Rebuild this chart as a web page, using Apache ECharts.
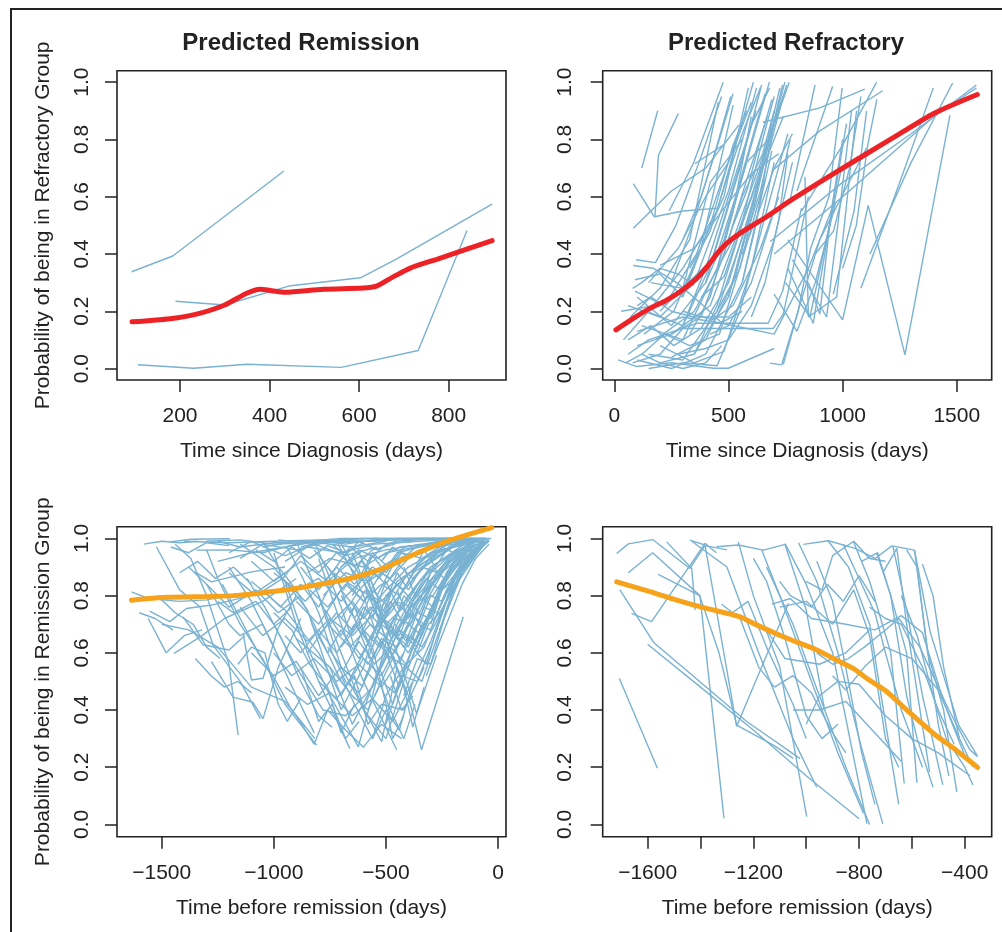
<!DOCTYPE html>
<html><head><meta charset="utf-8">
<script src="https://cdn.jsdelivr.net/npm/echarts@6/dist/echarts.min.js"></script>
<style>html,body{margin:0;padding:0;background:#fff}#c{width:1002px;height:932px}</style>
</head><body><div id="c"></div>
<script>
const panelTitles = ['Predicted Remission', 'Predicted Refractory'];
const yTitles = ['Probability of being in Refractory Group', 'Probability of being in Remission Group'];
const xTitles = ['Time since Diagnosis (days)', 'Time since Diagnosis (days)', 'Time before remission (days)', 'Time before remission (days)'];
const yTicks = [0, 0.2, 0.4, 0.6, 0.8, 1.0];
const xTicks1 = [200, 400, 600, 800];
const xTicks2 = [0, 500, 1000, 1500];
const xTicks3 = [-1500, -1000, -500, 0];
const xTicks4 = [-1600, -1400, -1200, -1000, -800, -600, -400];
const xLabels4 = [-1600, -1200, -800, -400];

// Panel 1: predicted remission, refractory-group probability vs time since diagnosis
const remLines = [
  [[92,0.338],[184,0.393],[432,0.69]],
  [[190,0.235],[300,0.222],[443,0.288],[603,0.317],[682,0.381],[897,0.574]],
  [[106,0.013],[231,0.001],[350,0.015],[560,0.004],[732,0.063],[841,0.482]]
];
const remSmooth = [[93,0.163],[178,0.174],[237,0.19],[300,0.222],[349,0.263],[379,0.277],[405,0.272],[434,0.266],[520,0.277],[609,0.281],[639,0.288],[676,0.32],[713,0.35],[780,0.385],[897,0.447]];

// Panel 2: predicted refractory
const refLines = [
  [[120,0.70],[190,0.90]],
  [[178,0.53],[193,0.745],[280,0.89]],
  [[83,0.646],[175,0.53],[300,0.55],[455,0.56]],
  [[240,0.55],[346,0.716],[477,1.0]],
  [[353,0.715],[477,0.78]],
  [[83,0.49],[250,0.62],[400,0.70],[545,0.85]],
  [[95,0.38],[180,0.37],[270,0.50],[380,0.74],[470,0.95]],
  [[83,0.36],[171,0.35],[273,0.30],[390,0.22],[470,0.16],[560,0.20]],
  [[90,0.31],[200,0.33],[300,0.25],[400,0.46],[480,0.60],[587,0.98]],
  [[17,0.03],[98,0.007],[250,0.02],[434,0.001],[499,0.001],[700,0.07]],
  [[60,0.05],[150,0.10],[361,0.158],[674,0.158],[737,0.27],[820,0.56]],
  [[80,0.02],[200,0.05],[300,0.14],[696,0.14],[740,0.19],[850,0.60]],
  [[740,0.015],[805,0.20],[860,0.42],[940,0.60],[998,0.98]],
  [[760,0.45],[1000,0.17],[1112,0.57],[1273,0.048],[1470,0.884]],
  [[682,0.443],[1000,0.65],[1300,0.82],[1586,0.99]],
  [[700,0.40],[1000,0.60],[1400,0.88],[1586,0.98]],
  [[682,0.019],[733,0.013],[900,0.45],[1105,0.771]],
  [[959,0.26],[1050,0.55],[1105,0.90]],
  [[1120,0.40],[1300,0.72],[1482,0.997]],
  [[1080,0.28],[1250,0.65],[1397,0.98]],
  [[820,0.55],[1000,0.78],[1149,1.0]],
  [[690,0.69],[900,0.83],[1175,0.97]],
  [[650,0.86],[900,0.91],[1097,0.976]],
  [[770,0.59],[879,0.99]],
  [[800,0.62],[956,0.985]],
  [[835,0.67],[850,0.18],[974,0.25],[1061,0.90]],
  [[760,0.35],[871,0.158],[1017,0.855]],
  [[780,0.38],[930,0.18],[1039,0.90]],
  [[750,0.30],[857,0.18],[995,0.70]],
  [[40,0.10],[150,0.20],[300,0.35],[450,0.55],[609,1.0]],
  [[60,0.22],[200,0.18],[350,0.30],[500,0.62],[623,0.98]],
  [[100,0.25],[250,0.15],[400,0.30],[550,0.70],[645,0.99]],
  [[120,0.15],[300,0.10],[450,0.35],[600,0.78],[679,1.0]],
  [[150,0.05],[300,0.03],[450,0.20],[600,0.55],[725,0.98]],
  [[200,0.02],[350,0.05],[500,0.25],[650,0.70],[737,0.99]],
  [[250,0.04],[400,0.10],[550,0.35],[680,0.80],[747,1.0]],
  [[100,0.08],[250,0.12],[420,0.22],[600,0.60],[755,0.99]],
  [[180,0.10],[350,0.20],[520,0.45],[766,1.0]],
  [[70,0.18],[200,0.28],[330,0.45],[455,0.93]],
  [[130,0.12],[260,0.20],[380,0.42],[520,0.92]],
  [[90,0.27],[220,0.22],[360,0.40],[560,0.86]],
  [[50,0.15],[140,0.20],[300,0.15],[420,0.36],[620,0.90]],
  [[160,0.30],[300,0.28],[450,0.40],[580,0.72],[700,0.82]],
  [[200,0.36],[350,0.42],[480,0.56],[600,0.68],[720,0.75]],
  [[30,0.20],[180,0.22],[300,0.28],[420,0.65],[560,0.80]],
  [[150,0.00],[300,0.02],[450,0.01],[550,0.20],[650,0.50],[760,0.82]],
  [[200,0.08],[350,0.02],[480,0.06],[600,0.35],[700,0.72]],
  [[100,0.03],[250,0.00],[400,0.05],[560,0.30],[690,0.76]],
  [[300,0.20],[430,0.17],[520,0.22],[640,0.42],[720,0.60]],
  [[420,0.12],[500,0.15],[600,0.30],[700,0.55],[770,0.80]],
  [[380,0.25],[480,0.32],[580,0.55],[650,0.70],[740,0.88]],
  [[280,0.05],[400,0.07],[500,0.10],[600,0.22],[700,0.45],[780,0.72]],
  [[100,0.13],[300,0.18],[460,0.16],[700,0.12],[850,0.35],[950,0.55]],
  [[250,0.30],[350,0.52],[450,0.78],[510,0.95]],
  [[300,0.45],[380,0.60],[460,0.80],[520,0.96]],
  [[330,0.12],[420,0.25],[520,0.55],[600,0.88]],
  [[560,0.30],[620,0.50],[680,0.78],[720,0.93]],
  [[500,0.25],[570,0.45],[640,0.62],[690,0.80],[730,0.92]],
  [[480,0.40],[560,0.60],[650,0.75],[700,0.90]],
  [[600,0.18],[660,0.30],[720,0.52],[760,0.75]],
  [[850,0.30],[900,0.19],[950,0.55],[1000,0.80]],
  [[700,0.26],[800,0.13],[880,0.30],[970,0.58]],
  [[1000,0.35],[1060,0.50],[1110,0.78],[1150,0.94]],
  [[880,0.40],[960,0.48],[1030,0.70],[1080,0.95]],
  [[50,0.02],[120,0.05],[200,0.02],[300,0.00],[400,0.02],[470,0.08]],
  [[80,0.28],[120,0.30],[200,0.35],[280,0.33],[350,0.29]],
  [[100,0.22],[160,0.25],[250,0.20],[350,0.18],[500,0.18],[600,0.25]],
  [[300,0.15],[400,0.35],[500,0.60],[600,0.85],[680,0.98]],
  [[350,0.05],[450,0.22],[550,0.48],[650,0.80],[700,0.95]],
  [[200,0.20],[320,0.30],[420,0.50],[520,0.78],[580,0.90]],
  [[250,0.12],[380,0.18],[480,0.40],[580,0.66],[670,0.88]],
  [[400,0.30],[480,0.45],[560,0.68],[620,0.85],[660,0.96]],
  [[450,0.20],[530,0.32],[610,0.58],[680,0.82],[750,0.97]],
  [[520,0.50],[580,0.62],[640,0.80],[690,0.94]],
  [[150,0.30],[280,0.42],[400,0.60],[500,0.72],[600,0.93]],
  [[330,0.35],[420,0.48],[500,0.68],[560,0.82],[640,0.98]],
  [[560,0.40],[620,0.52],[700,0.70],[780,0.82]],
  [[120,0.05],[220,0.12],[330,0.08],[460,0.12],[560,0.38],[660,0.66]],
  [[60,0.10],[160,0.15],[260,0.08],[380,0.14],[500,0.30],[620,0.62]]
];
const refSmooth = [[7,0.135],[83,0.175],[156,0.21],[229,0.239],[288,0.268],[361,0.315],[406,0.355],[451,0.402],[492,0.437],[550,0.472],[667,0.53],[784,0.593],[959,0.68],[1105,0.75],[1251,0.82],[1397,0.89],[1590,0.957]];

// Panel 3: remission-group probability vs time before remission
const remBackLines = [
  [[-1464,0.988],[-1368,0.997],[-1196,0.999]],
  [[-1524,0.971],[-1420,0.82],[-1330,0.761],[-1271,0.627],[-1150,0.50],[-1060,0.37]],
  [[-1635,0.813],[-1560,0.79],[-1420,0.78],[-1300,0.785],[-1200,0.80]],
  [[-1554,0.746],[-1464,0.709],[-1390,0.755],[-1278,0.767],[-1100,0.80],[-950,0.88]],
  [[-1445,0.598],[-1320,0.66],[-1220,0.72],[-1050,0.78],[-900,0.86]],
  [[-1440,0.98],[-1370,0.93],[-1300,0.80],[-1200,0.56],[-1159,0.312]],
  [[-1405,0.726],[-1316,0.628],[-1200,0.61],[-1130,0.66]],
  [[-1137,0.668],[-1100,0.505],[-1048,0.511],[-981,0.686],[-900,0.80]],
  [[-1278,0.569],[-1182,0.445],[-1093,0.427],[-1048,0.37],[-980,0.55],[-880,0.72]],
  [[-1353,0.883],[-1278,0.848],[-1100,0.883],[-950,0.90]],
  [[-1345,0.959],[-1200,0.96],[-1050,0.95],[-900,0.98]],
  [[-1500,0.70],[-1380,0.68],[-1250,0.62],[-1100,0.48],[-950,0.43],[-817,0.30]],
  [[-1300,0.96],[-1250,0.86],[-1150,0.70],[-1050,0.58],[-950,0.42],[-809,0.277]],
  [[-1200,0.90],[-1100,0.78],[-1000,0.62],[-900,0.45],[-820,0.32]],
  [[-1000,0.95],[-900,0.70],[-800,0.50],[-661,0.265]],
  [[-950,0.85],[-850,0.62],[-750,0.45],[-623,0.271],[-560,0.45],[-480,0.70]],
  [[-900,0.99],[-800,0.80],[-700,0.55],[-519,0.289],[-450,0.55]],
  [[-800,0.93],[-700,0.70],[-600,0.50],[-452,0.261]],
  [[-650,0.95],[-500,0.65],[-400,0.45],[-341,0.261],[-155,0.726]],
  [[-600,0.88],[-450,0.60],[-363,0.388],[-274,0.592]],
  [[-1150,0.98],[-1000,0.90],[-850,0.75],[-700,0.40],[-600,0.55],[-500,0.80],[-300,0.95],[-100,0.99]],
  [[-1100,0.85],[-950,0.75],[-800,0.60],[-700,0.45],[-600,0.60],[-450,0.85],[-250,0.96],[-80,0.99]],
  [[-900,0.65],[-750,0.55],[-650,0.35],[-550,0.50],[-400,0.75],[-200,0.93],[-60,0.98]],
  [[-800,0.80],[-700,0.60],[-600,0.40],[-500,0.30],[-400,0.55],[-250,0.85],[-120,0.97]],
  [[-700,0.98],[-600,0.85],[-500,0.70],[-400,0.60],[-300,0.75],[-180,0.94],[-60,0.995]],
  [[-1000,0.70],[-900,0.55],[-780,0.40],[-680,0.38],[-560,0.48],[-450,0.70],[-300,0.90],[-150,0.98]],
  [[-1250,0.92],[-1100,0.95],[-950,0.97],[-800,0.99],[-600,1.0],[-300,1.0],[-50,1.0]],
  [[-1050,0.97],[-900,0.99],[-700,0.985],[-500,0.995],[-200,1.0],[-30,1.0]],
  [[-1400,0.99],[-1200,0.985],[-1000,0.99],[-800,0.995],[-600,0.99]],
  [[-950,0.92],[-850,0.97],[-700,0.95],[-550,0.98],[-350,0.99],[-150,1.0]],
  [[-850,0.88],[-750,0.93],[-600,0.90],[-500,0.95],[-300,0.98],[-100,0.99]],
  [[-780,0.80],[-680,0.88],[-580,0.85],[-480,0.90],[-350,0.96],[-120,0.99]],
  [[-700,0.72],[-620,0.82],[-520,0.78],[-430,0.85],[-330,0.93],[-150,0.985]],
  [[-650,0.60],[-560,0.75],[-480,0.70],[-400,0.80],[-300,0.90],[-130,0.98]],
  [[-600,0.50],[-520,0.65],[-450,0.62],[-380,0.72],[-280,0.86],[-120,0.97]],
  [[-550,0.45],[-470,0.58],[-400,0.55],[-330,0.68],[-250,0.82],[-100,0.96]],
  [[-500,0.35],[-430,0.52],[-360,0.50],[-300,0.62],[-220,0.80],[-90,0.95]],
  [[-750,0.70],[-650,0.78],[-550,0.68],[-470,0.75],[-380,0.88],[-200,0.97]],
  [[-680,0.85],[-600,0.78],[-520,0.88],[-420,0.82],[-330,0.90],[-170,0.99]],
  [[-620,0.95],[-540,0.80],[-460,0.92],[-380,0.86],[-280,0.95],[-140,0.99]],
  [[-560,0.72],[-500,0.85],[-440,0.75],[-360,0.84],[-260,0.92],[-110,0.98]],
  [[-900,0.78],[-800,0.70],[-700,0.82],[-600,0.72],[-500,0.82],[-400,0.90],[-220,0.98]],
  [[-850,0.60],[-760,0.70],[-660,0.62],[-570,0.70],[-480,0.64],[-380,0.78],[-200,0.95]],
  [[-1000,0.88],[-900,0.82],[-800,0.86],[-700,0.78],[-600,0.86],[-480,0.92],[-300,0.97]],
  [[-1100,0.92],[-1000,0.85],[-880,0.92],[-760,0.85],[-640,0.93],[-500,0.96],[-250,0.99]],
  [[-1200,0.88],[-1080,0.80],[-960,0.86],[-860,0.78],[-740,0.88],[-620,0.82],[-520,0.90]],
  [[-1300,0.84],[-1200,0.76],[-1080,0.82],[-980,0.74],[-880,0.80]],
  [[-1150,0.76],[-1050,0.66],[-950,0.72],[-850,0.64],[-750,0.72],[-650,0.66],[-550,0.74]],
  [[-1000,0.60],[-920,0.52],[-820,0.58],[-720,0.50],[-620,0.56],[-520,0.48],[-420,0.60]],
  [[-950,0.48],[-850,0.42],[-750,0.46],[-650,0.38],[-560,0.44],[-470,0.36],[-380,0.50]],
  [[-900,0.38],[-820,0.28],[-760,0.40],[-680,0.33],[-600,0.27],[-520,0.35],[-430,0.30]],
  [[-1380,0.90],[-1300,0.84],[-1200,0.70],[-1150,0.66],[-1050,0.70],[-1000,0.62]],
  [[-1560,0.72],[-1480,0.60],[-1400,0.66],[-1320,0.68]],
  [[-1250,0.99],[-1150,0.97],[-1000,0.985],[-850,0.99],[-700,1.0],[-500,1.0],[-250,1.0],[-60,1.0]],
  [[-1150,0.93],[-1050,0.98],[-900,0.96],[-750,0.99],[-550,0.99],[-350,1.0],[-150,1.0]],
  [[-700,0.90],[-620,0.96],[-540,0.93],[-440,0.97],[-320,0.98],[-160,0.995]],
  [[-460,0.60],[-400,0.70],[-340,0.66],[-280,0.78],[-200,0.90],[-80,0.975]],
  [[-420,0.45],[-360,0.58],[-300,0.56],[-240,0.72],[-170,0.88],[-70,0.97]],
  [[-380,0.65],[-330,0.76],[-270,0.74],[-210,0.84],[-140,0.93],[-50,0.985]],
  [[-520,0.55],[-440,0.68],[-370,0.64],[-300,0.74],[-220,0.87],[-100,0.97]],
  [[-600,0.68],[-530,0.62],[-460,0.72],[-390,0.70],[-310,0.82],[-200,0.93],[-90,0.98]],
  [[-750,0.55],[-680,0.48],[-600,0.58],[-520,0.52],[-440,0.64],[-340,0.80],[-180,0.95]],
  [[-650,0.45],[-580,0.40],[-520,0.50],[-460,0.46],[-400,0.58],[-320,0.72],[-210,0.90]],
  [[-800,0.50],[-720,0.44],[-640,0.52],[-580,0.35],[-520,0.42],[-420,0.40],[-330,0.55]],
  [[-1100,0.60],[-1000,0.52],[-900,0.57],[-800,0.45],[-700,0.55],[-600,0.48]],
  [[-950,0.66],[-880,0.60],[-800,0.68],[-720,0.60],[-640,0.70],[-560,0.62],[-480,0.80]],
  [[-1050,0.82],[-970,0.76],[-880,0.84],[-800,0.76],[-700,0.90],[-600,0.96]],
  [[-1250,0.78],[-1180,0.74],[-1080,0.78],[-1000,0.70],[-920,0.76]],
  [[-1460,0.97],[-1380,0.95],[-1300,0.985],[-1200,0.975]],
  [[-1600,0.74],[-1530,0.72],[-1450,0.68]],
  [[-1350,0.58],[-1280,0.52],[-1220,0.48],[-1160,0.50],[-1100,0.46]],
  [[-880,0.55],[-800,0.36],[-740,0.42],[-680,0.30],[-620,0.36]],
  [[-560,0.62],[-500,0.42],[-470,0.30],[-420,0.38]],
  [[-480,0.52],[-430,0.40],[-380,0.45]],
  [[-300,0.70],[-250,0.82],[-190,0.86],[-130,0.94],[-60,0.99]],
  [[-250,0.78],[-200,0.85],[-150,0.90],[-100,0.95],[-40,0.99]],
  [[-650,0.80],[-580,0.90],[-500,0.84],[-420,0.93],[-320,0.96],[-180,0.99],[-60,1.0]],
  [[-620,0.70],[-560,0.82],[-490,0.76],[-410,0.87],[-320,0.92],[-200,0.97],[-80,0.995]],
  [[-580,0.88],[-520,0.76],[-450,0.84],[-380,0.78],[-300,0.88],[-200,0.95],[-90,0.99]],
  [[-540,0.78],[-480,0.66],[-420,0.80],[-350,0.74],[-280,0.86],[-190,0.94],[-70,0.99]],
  [[-700,0.62],[-620,0.70],[-550,0.58],[-480,0.68],[-400,0.62],[-320,0.78],[-220,0.92],[-100,0.98]],
  [[-760,0.90],[-690,0.82],[-610,0.92],[-530,0.86],[-450,0.95],[-350,0.97],[-200,0.99]],
  [[-820,0.96],[-740,0.88],[-660,0.97],[-580,0.92],[-500,0.98],[-380,0.99]],
  [[-450,0.82],[-400,0.72],[-350,0.80],[-290,0.76],[-230,0.88],[-150,0.96],[-60,0.99]],
  [[-420,0.90],[-370,0.80],[-320,0.86],[-260,0.82],[-200,0.91],[-120,0.97],[-40,0.995]],
  [[-500,0.60],[-440,0.48],[-380,0.62],[-320,0.56],[-260,0.72],[-180,0.88],[-80,0.975]],
  [[-600,0.40],[-530,0.55],[-470,0.42],[-410,0.55],[-340,0.50],[-260,0.68],[-160,0.88],[-70,0.97]],
  [[-700,0.52],[-640,0.42],[-560,0.30],[-500,0.45],[-420,0.55],[-330,0.62],[-230,0.82],[-110,0.96]],
  [[-560,0.30],[-500,0.40],[-440,0.33],[-380,0.50],[-300,0.64],[-200,0.85],[-90,0.97]],
  [[-480,0.70],[-420,0.62],[-360,0.70],[-300,0.68],[-240,0.80],[-160,0.92],[-60,0.99]],
  [[-880,0.97],[-780,0.99],[-680,0.98],[-560,0.995],[-440,1.0],[-300,1.0],[-100,1.0]],
  [[-980,0.995],[-850,0.985],[-700,0.995],[-550,1.0],[-400,0.995],[-200,1.0]],
  [[-1300,0.99],[-1150,0.995],[-1000,0.98],[-800,0.985],[-650,0.97],[-500,0.99]],
  [[-1200,0.95],[-1100,0.99],[-950,0.94],[-820,0.98],[-680,0.94],[-540,0.97]],
  [[-770,0.75],[-700,0.66],[-640,0.76],[-580,0.64],[-520,0.72],[-440,0.66],[-360,0.82]],
  [[-830,0.70],[-760,0.60],[-700,0.68],[-620,0.58],[-560,0.66],[-480,0.58],[-400,0.70]],
  [[-730,0.88],[-660,0.74],[-590,0.82],[-520,0.70],[-460,0.78],[-380,0.72],[-300,0.84]],
  [[-1050,0.99],[-980,0.90],[-900,0.82],[-820,0.70],[-760,0.60],[-700,0.50],[-640,0.44]],
  [[-940,0.97],[-870,0.86],[-800,0.74],[-740,0.60],[-680,0.50],[-620,0.46],[-560,0.56]],
  [[-820,0.99],[-760,0.88],[-700,0.76],[-640,0.62],[-580,0.56],[-520,0.64],[-460,0.58]],
  [[-720,0.99],[-660,0.90],[-600,0.80],[-540,0.66],[-480,0.58],[-420,0.66],[-360,0.62]],
  [[-1000,0.74],[-920,0.68],[-840,0.56],[-760,0.48],[-700,0.32],[-640,0.42]],
  [[-1120,0.86],[-1040,0.76],[-960,0.64],[-880,0.50],[-800,0.38],[-740,0.34]],
  [[-1230,0.84],[-1150,0.72],[-1070,0.60],[-990,0.50],[-920,0.40],[-860,0.34]],
  [[-660,0.76],[-600,0.64],[-540,0.52],[-480,0.40],[-420,0.30],[-370,0.42]],
  [[-600,0.92],[-540,0.74],[-480,0.60],[-420,0.48],[-380,0.34],[-330,0.48]],
  [[-380,0.88],[-330,0.96],[-280,0.90],[-220,0.97],[-150,0.99],[-60,1.0]],
  [[-340,0.80],[-290,0.90],[-240,0.86],[-180,0.95],[-110,0.985],[-40,1.0]],
  [[-300,0.92],[-250,0.97],[-200,0.95],[-140,0.99],[-70,1.0]],
  [[-260,0.68],[-210,0.80],[-160,0.88],[-110,0.95],[-50,0.99]],
  [[-1420,0.88],[-1340,0.92],[-1260,0.86],[-1180,0.90],[-1100,0.84]],
  [[-1580,0.98],[-1500,0.99],[-1420,0.985],[-1340,0.99]],
  [[-1520,0.80],[-1440,0.74],[-1360,0.70],[-1300,0.62],[-1240,0.58]],
  [[-1160,0.56],[-1100,0.62],[-1040,0.60],[-980,0.42],[-940,0.36],[-880,0.44]],
  [[-700,0.80],[-640,0.72],[-580,0.80],[-500,0.74],[-420,0.82],[-330,0.90],[-200,0.97],[-70,1.0]],
  [[-660,0.66],[-600,0.76],[-530,0.70],[-460,0.78],[-380,0.76],[-290,0.86],[-170,0.95],[-60,0.99]],
  [[-620,0.84],[-560,0.94],[-500,0.88],[-430,0.95],[-340,0.93],[-240,0.98],[-110,1.0]],
  [[-580,0.58],[-520,0.70],[-460,0.66],[-400,0.74],[-330,0.70],[-250,0.84],[-140,0.95],[-50,0.99]],
  [[-540,0.66],[-480,0.78],[-420,0.70],[-360,0.78],[-290,0.80],[-210,0.90],[-100,0.98]],
  [[-500,0.78],[-450,0.88],[-400,0.82],[-340,0.90],[-270,0.88],[-190,0.95],[-90,0.995]],
  [[-460,0.70],[-410,0.64],[-360,0.74],[-300,0.72],[-240,0.84],[-160,0.93],[-60,0.99]],
  [[-440,0.56],[-390,0.66],[-340,0.62],[-280,0.70],[-220,0.80],[-140,0.92],[-50,0.985]],
  [[-400,0.76],[-350,0.70],[-300,0.80],[-250,0.78],[-190,0.88],[-120,0.95],[-40,0.995]],
  [[-360,0.60],[-310,0.70],[-260,0.74],[-200,0.82],[-140,0.91],[-70,0.97]],
  [[-320,0.52],[-270,0.62],[-220,0.72],[-160,0.84],[-100,0.93],[-40,0.98]],
  [[-880,0.90],[-800,0.82],[-720,0.90],[-640,0.84],[-560,0.90],[-480,0.86],[-400,0.93]],
  [[-840,0.82],[-760,0.76],[-680,0.84],[-600,0.78],[-520,0.84],[-440,0.80],[-360,0.90]],
  [[-800,0.66],[-720,0.74],[-650,0.68],[-570,0.76],[-500,0.70],[-420,0.76],[-340,0.86]],
  [[-760,0.62],[-690,0.54],[-620,0.64],[-550,0.56],[-480,0.62],[-410,0.56],[-340,0.70]],
  [[-960,0.86],[-880,0.94],[-800,0.88],[-720,0.95],[-640,0.90],[-560,0.96],[-460,0.98]],
  [[-1080,0.96],[-1000,0.92],[-920,0.97],[-840,0.93],[-760,0.975],[-680,0.95],[-600,0.985]],
  [[-680,0.92],[-620,0.86],[-560,0.95],[-490,0.90],[-420,0.97],[-330,0.98],[-200,1.0]],
  [[-740,0.98],[-680,0.94],[-620,0.99],[-540,0.96],[-460,0.99],[-360,0.995],[-220,1.0]],
  [[-520,0.92],[-470,0.97],[-410,0.94],[-350,0.98],[-270,0.97],[-180,0.995],[-80,1.0]]
];
const remBackSmooth = [[-1635,0.784],[-1479,0.794],[-1182,0.80],[-958,0.819],[-810,0.837],[-661,0.86],[-512,0.895],[-363,0.948],[-214,0.994],[-28,1.038]];

// Panel 4: refractory-group probability vs time before remission
const refBackLines = [
  [[-1707,0.51],[-1563,0.196]],
  [[-1717,0.947],[-1673,0.981],[-1581,0.996],[-1440,0.895],[-1383,0.975],[-1300,0.96]],
  [[-1673,0.88],[-1581,0.95],[-1402,0.80],[-1311,0.021]],
  [[-1661,0.738],[-1585,0.709],[-1383,0.983],[-1340,0.95]],
  [[-1705,0.82],[-1576,0.635],[-1225,0.36],[-1023,0.23]],
  [[-1528,0.988],[-1433,0.895],[-1420,0.75]],
  [[-1560,0.874],[-1403,0.80],[-1330,0.60],[-1263,0.347],[-1124,0.277],[-1049,0.231]],
  [[-1440,0.994],[-1383,0.977],[-1263,0.343],[-1067,0.773]],
  [[-1339,0.971],[-1257,0.977],[-1162,0.959],[-1080,0.979],[-1000,0.75],[-930,0.40]],
  [[-1433,0.99],[-1300,0.90],[-1180,0.60],[-1050,0.30],[-960,0.13]],
  [[-1257,0.988],[-1200,0.80],[-1100,0.55],[-998,0.027]],
  [[-1168,0.959],[-1100,0.80],[-1000,0.55],[-880,0.25],[-783,0.038]],
  [[-1080,0.982],[-1000,0.84],[-900,0.60],[-770,0.003]],
  [[-1029,0.985],[-960,0.85],[-880,0.60],[-800,0.30],[-710,0.001]],
  [[-1011,0.979],[-916,0.992],[-815,0.965],[-739,0.93],[-676,0.974],[-590,0.959],[-531,0.674],[-423,0.347],[-354,0.242]],
  [[-916,0.99],[-840,0.90],[-760,0.70],[-650,0.07]],
  [[-821,0.988],[-760,0.85],[-680,0.60],[-629,0.143]],
  [[-733,0.948],[-680,0.80],[-620,0.60],[-581,0.146]],
  [[-708,0.883],[-657,0.965],[-620,0.70],[-533,0.184]],
  [[-672,0.973],[-620,0.75],[-560,0.45],[-483,0.138]],
  [[-590,0.959],[-540,0.60],[-480,0.40],[-430,0.114]],
  [[-1100,0.76],[-1000,0.78],[-900,0.70],[-820,0.82],[-760,0.66],[-700,0.30],[-650,0.20]],
  [[-1320,0.77],[-1250,0.72],[-1150,0.68],[-1080,0.58],[-950,0.56],[-850,0.60],[-760,0.68]],
  [[-1000,0.85],[-940,0.82],[-900,0.94],[-820,0.99],[-760,0.93],[-700,0.92]],
  [[-1130,0.77],[-1060,0.79],[-980,0.72],[-850,0.70],[-740,0.68],[-640,0.73],[-560,0.67],[-480,0.43],[-400,0.24]],
  [[-900,0.52],[-850,0.47],[-780,0.55],[-700,0.62],[-600,0.58],[-500,0.47],[-420,0.30]],
  [[-1000,0.35],[-950,0.45],[-880,0.50],[-800,0.49],[-700,0.38],[-600,0.30],[-500,0.25],[-380,0.17]],
  [[-1050,0.40],[-950,0.40],[-850,0.43],[-760,0.34],[-640,0.22]],
  [[-1200,0.93],[-1150,0.85],[-1080,0.65],[-1000,0.38],[-940,0.30],[-880,0.35]],
  [[-1100,0.85],[-1060,0.80],[-980,0.76],[-920,0.84],[-860,0.78],[-800,0.87],[-740,0.78]],
  [[-860,0.98],[-800,0.86],[-740,0.74],[-700,0.60],[-640,0.40],[-560,0.20]],
  [[-790,0.92],[-730,0.95],[-680,0.80],[-620,0.45],[-580,0.30],[-520,0.13]],
  [[-620,0.96],[-580,0.90],[-540,0.60],[-500,0.35],[-460,0.17]],
  [[-640,0.80],[-580,0.66],[-520,0.45],[-470,0.30],[-400,0.20],[-369,0.138]],
  [[-1600,0.63],[-1400,0.48],[-1200,0.33],[-1000,0.17],[-800,0.02]],
  [[-1250,0.72],[-1180,0.55],[-1120,0.48],[-1050,0.52],[-980,0.46],[-900,0.32],[-850,0.25]],
  [[-960,0.60],[-900,0.56],[-840,0.58],[-780,0.62],[-700,0.68],[-650,0.72],[-570,0.62],[-460,0.40],[-380,0.26],[-351,0.237]],
  [[-760,0.76],[-700,0.72],[-640,0.70],[-560,0.55],[-500,0.40],[-440,0.28]],
  [[-1350,0.75],[-1280,0.74],[-1220,0.78],[-1150,0.62],[-1050,0.42],[-1000,0.30]],
  [[-560,0.91],[-520,0.80],[-480,0.55],[-420,0.30],[-369,0.20]],
  [[-1150,0.90],[-1050,0.70],[-950,0.45],[-850,0.20],[-760,0.0]],
  [[-960,0.92],[-900,0.78],[-840,0.50],[-790,0.25],[-740,0.07]]
];
const refBackSmooth = [[-1717,0.848],[-1591,0.814],[-1490,0.784],[-1389,0.758],[-1250,0.726],[-1200,0.703],[-1086,0.656],[-960,0.61],[-897,0.58],[-821,0.545],[-770,0.51],[-695,0.464],[-619,0.40],[-518,0.318],[-442,0.266],[-351,0.199]];

const BLUE = '#79b2d2', RED = '#ec2227', ORANGE = '#f6a31b', INK = '#222222';
const FONT = 'Liberation Sans, Arial, Helvetica, sans-serif';

const grids = [
  {left:117, top:70.7, width:389, height:309.3},
  {left:602.7, top:70.7, width:389, height:309.3},
  {left:117, top:526.7, width:389, height:310},
  {left:602.7, top:526.7, width:389, height:310}
].map(g => Object.assign(g, {show:true, borderColor:INK, borderWidth:1.6, backgroundColor:'transparent', containLabel:false}));

const xRanges = [[59.4, 928], [-51, 1653], [-1699.5, 35.7], [-1770, -298]];
const yRanges = [[-0.04, 1.04], [-0.04, 1.04], [-0.043, 1.041], [-0.043, 1.041]];
const xTickSets = [xTicks1, xTicks2, xTicks3, xTicks4];
const xLabelSets = [xTicks1, xTicks2, xTicks3, xLabels4];

const fmtX = v => (v < 0 ? '\u2212' + Math.abs(v) : String(v));
const fmtY = v => v.toFixed(1);

const xAxis = xRanges.map((r, i) => ({
  gridIndex:i, type:'value', min:r[0], max:r[1], position:'bottom',
  axisLine:{show:false, onZero:false}, splitLine:{show:false},
  axisTick:{show:true, inside:false, length:12, customValues:xTickSets[i], lineStyle:{color:INK, width:1.5}},
  axisLabel:{show:true, customValues:xLabelSets[i], margin:26, fontSize:21, color:INK, fontFamily:FONT, formatter:fmtX},
  name:xTitles[i], nameLocation:'middle', nameGap:61,
  nameTextStyle:{fontSize:21, color:INK, fontFamily:FONT}
}));
const yAxis = yRanges.map((r, i) => ({
  gridIndex:i, type:'value', min:r[0], max:r[1], position:'left',
  axisLine:{show:false, onZero:false}, splitLine:{show:false},
  axisTick:{show:true, inside:false, length:12, customValues:yTicks, lineStyle:{color:INK, width:1.5}},
  axisLabel:{show:true, customValues:yTicks, rotate:90, margin:(i % 2 ? 27 : 24), fontSize:21, color:INK, fontFamily:FONT, formatter:fmtY},
  name:(i % 2 === 0 ? yTitles[i / 2] : ''), nameLocation:'middle', nameGap:63, nameRotate:90,
  nameTextStyle:{fontSize:21, color:INK, fontFamily:FONT}
}));

const series = [];
const addLines = (lines, idx) => lines.forEach(l => series.push({
  type:'line', xAxisIndex:idx, yAxisIndex:idx, data:l, symbol:'none', showSymbol:false,
  lineStyle:{color:BLUE, width:1.4}, silent:true, z:2, animation:false
}));
const addSmooth = (d, idx, color) => series.push({
  type:'line', xAxisIndex:idx, yAxisIndex:idx, data:d, symbol:'none', showSymbol:false, smooth:0.25,
  lineStyle:{color:color, width:5, cap:'round', join:'round'}, silent:true, z:5, animation:false
});
addLines(remLines, 0); addSmooth(remSmooth, 0, RED);
addLines(refLines, 1); addSmooth(refSmooth, 1, RED);
addLines(remBackLines, 2); addSmooth(remBackSmooth, 2, ORANGE);
addLines(refBackLines, 3); addSmooth(refBackSmooth, 3, ORANGE);

const chart = echarts.init(document.getElementById('c'), null, {renderer:'canvas'});
chart.setOption({
  animation:false, backgroundColor:'#ffffff',
  grid:grids, xAxis:xAxis, yAxis:yAxis, series:series,
  graphic:[
    {type:'rect', shape:{x:11, y:9, width:1100, height:1000}, style:{fill:'none', stroke:INK, lineWidth:2}, silent:true},
    {type:'text', x:301, y:43, style:{text:panelTitles[0], font:'bold 24px ' + FONT, fill:INK, textAlign:'center', textVerticalAlign:'middle'}},
    {type:'text', x:786, y:43, style:{text:panelTitles[1], font:'bold 24px ' + FONT, fill:INK, textAlign:'center', textVerticalAlign:'middle'}}
  ]
});
</script></body></html>
